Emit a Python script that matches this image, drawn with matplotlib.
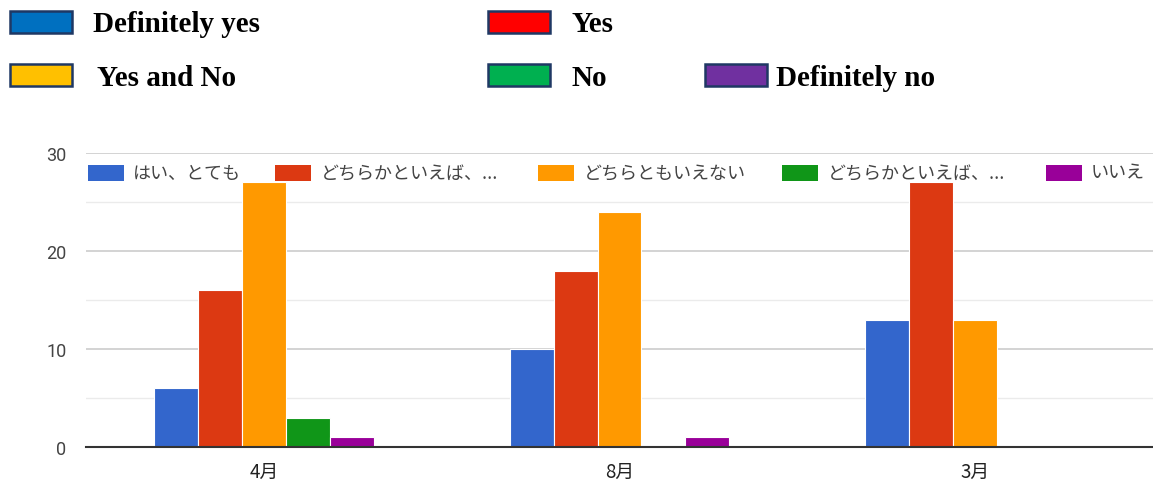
import numpy as np
import matplotlib.pyplot as plt
from matplotlib.patches import Rectangle

plt.rcParams['font.family'] = ['Noto Sans CJK JP', 'DejaVu Sans']

# データ
months = ['4月', '8月', '3月']
series_jp = ['はい、とても', 'どちらかといえば、...', 'どちらともいえない', 'どちらかといえば、...', 'いいえ']
series_en = ['Definitely yes', 'Yes', 'Yes and No', 'No', 'Definitely no']
values = [
    [6, 10, 13],   # はい、とても
    [16, 18, 27],  # どちらかといえば（はい）
    [27, 24, 13],  # どちらともいえない
    [3, 0, 0],     # どちらかといえば（いいえ）
    [1, 1, 0],     # いいえ
]
y_ticks = [0, 10, 20, 30]

chart_colors = ['#3366CC', '#DC3912', '#FF9900', '#109618', '#990099']
en_colors = ['#0070C0', '#FF0000', '#FFC000', '#00B050', '#7030A0']

W, H = 1153, 481
fig = plt.figure(figsize=(W / 100, H / 100), dpi=100)


def px(x, y):
    # ピクセル座標 (左上原点) -> figure 座標
    return x / W, 1 - y / H


# 上部の英語凡例
en_pos = [(10, 12, 93), (488, 12, 571), (10, 65, 97), (488, 65, 571), (705, 65, 776)]
for (bx, by, tx), label, c in zip(en_pos, series_en, en_colors):
    x0, y1 = px(bx, by + 22)
    fig.patches.append(Rectangle((x0, y1), 62 / W, 22 / H, transform=fig.transFigure,
                                 facecolor=c, edgecolor='#1F3864', linewidth=1.8))
    tx0, ty = px(tx, by + 13)
    fig.text(tx0, ty, label, fontsize=21, fontweight='bold', family='Liberation Serif',
             va='center', ha='left', color='black')

# 棒グラフ
l, b = px(86, 448)
_, t = px(86, 154)
ax = fig.add_axes([l, b, 1 - l, t - b])

x = np.arange(len(months))
n = len(values)
stride = 0.1236
for i, (vals, c) in enumerate(zip(values, chart_colors)):
    offs = (i - (n - 1) / 2) * stride
    ax.bar(x + offs, vals, width=stride, color=c, edgecolor='white', linewidth=0.8, zorder=3)

ax.set_xlim(-0.5, len(months) - 0.5)
ax.set_ylim(0, 30)
ax.set_yticks(y_ticks)
ax.set_yticks([5, 15, 25], minor=True)
ax.set_yticklabels([str(v) for v in y_ticks], fontsize=13, color='#444444', family='Roboto')
ax.set_xticks(x)
ax.set_xticklabels(months, fontsize=13.5, color='#222222')
ax.tick_params(axis='x', length=0, pad=10)
ax.tick_params(axis='y', length=0, pad=14)
ax.tick_params(axis='y', which='minor', length=0)
ax.grid(axis='y', which='major', color='#CCCCCC', linewidth=1.2, zorder=0)
ax.grid(axis='y', which='minor', color='#EBEBEB', linewidth=1.0, zorder=0)
for s in ['top', 'right', 'left']:
    ax.spines[s].set_visible(False)
ax.spines['bottom'].set_color('#333333')
ax.spines['bottom'].set_linewidth(1.5)
ax.spines['bottom'].set_zorder(4)

# グラフ内の凡例
leg_pos = [(88, 133), (275, 321), (538, 584), (782, 828), (1046, 1091)]
for (bx, tx), label, c in zip(leg_pos, series_jp, chart_colors):
    x0, y0 = px(bx, 182)
    fig.patches.append(Rectangle((x0, y0), 36 / W, 16 / H, transform=fig.transFigure,
                                 facecolor=c, edgecolor='none', zorder=5))
    tx0, ty = px(tx, 174)
    fig.text(tx0, ty, label, fontsize=13, color='#444444', va='center', ha='left', zorder=5)

fig.savefig('out.png', dpi=100)
